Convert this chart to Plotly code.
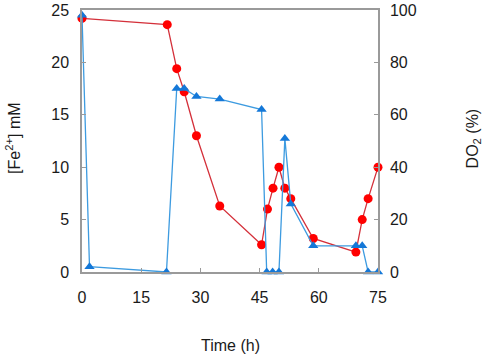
import plotly.graph_objects as go

fe_time = [0, 21.6, 24.0, 25.9, 29.0, 34.9, 45.5, 47.0, 48.4, 49.9, 51.4, 52.9, 58.6, 69.4, 71.0, 72.5, 75.0]
fe_conc = [24.2, 23.6, 19.4, 17.2, 13.0, 6.3, 2.6, 6.0, 8.0, 10.0, 8.0, 7.0, 3.2, 1.9, 5.0, 7.0, 10.0]

do_time = [0, 1.9, 21.4, 24.0, 25.9, 29.0, 34.9, 45.5, 46.8, 48.3, 49.9, 51.4, 52.9, 58.6, 69.4, 71.0, 72.5, 75.0]
do_pct = [98, 2, 0, 70, 70, 67, 66, 62, 0, 0, 0, 51, 26, 10, 10, 10, 0, 0]

x_ticks = [0, 15, 30, 45, 60, 75]
left_ticks = [0, 5, 10, 15, 20, 25]
right_ticks = [0, 20, 40, 60, 80, 100]

FONT = "Liberation Sans, Arial, sans-serif"
AXC = "#9a9a9a"
TXT = "#1a1a1a"

fig = go.Figure()
fig.add_trace(go.Scatter(
    x=fe_time, y=fe_conc, mode="lines+markers", yaxis="y",
    line=dict(color="#d4303a", width=1.3),
    marker=dict(symbol="circle", size=9, color="#ff0000"),
    cliponaxis=False, showlegend=False, hoverinfo="skip"))
fig.add_trace(go.Scatter(
    x=do_time, y=do_pct, mode="lines+markers", yaxis="y2",
    line=dict(color="#3d9be0", width=1.3),
    marker=dict(symbol="triangle-up", size=9, color="#1478d8"),
    cliponaxis=False, showlegend=False, hoverinfo="skip"))

common = dict(showgrid=False, zeroline=False, showline=True, linecolor=AXC,
              linewidth=1.5, ticks="inside", ticklen=4, tickcolor=AXC,
              automargin=False, ticklabeloverflow="allow",
              tickfont=dict(size=16, color=TXT))

fig.update_layout(
    width=490, height=359,
    margin=dict(l=82, r=112, t=10, b=87),
    paper_bgcolor="white", plot_bgcolor="white",
    font=dict(family=FONT, size=16, color=TXT),
    hovermode=False,
    xaxis=dict(range=[0, 75], tickvals=x_ticks, ticktext=[str(v) for v in x_ticks],
               mirror=True, ticklabelstandoff=10, **common),
    yaxis=dict(range=[0, 25], tickvals=left_ticks, ticklabelstandoff=8,
               **common),
    yaxis2=dict(range=[0, 100], tickvals=right_ticks, overlaying="y", side="right",
                ticklabelstandoff=7,
                **common),
    annotations=[
        dict(text="Time (h)", xref="paper", yref="paper", x=0.5, y=0,
             xanchor="center", yanchor="middle", yshift=-73, showarrow=False,
             font=dict(size=16, color=TXT)),
        dict(text="[Fe<sup>2+</sup>] mM", xref="paper", yref="paper", x=0, y=0.508,
             xanchor="center", yanchor="middle", xshift=-69, textangle=-90,
             showarrow=False, font=dict(size=16, color=TXT)),
        dict(text="DO<sub>2</sub> (%)", xref="paper", yref="paper", x=1, y=0.51,
             xanchor="center", yanchor="middle", xshift=95, textangle=-90,
             showarrow=False, font=dict(size=16, color=TXT)),
    ],
)

post = (
    "document.body.style.margin='0';"
    "var gd=document.getElementById('{plot_id}');"
    "Plotly.newPlot(gd, gd.data, gd.layout, {displayModeBar:false});"
)
fig.write_html("out.html", config={"displayModeBar": False}, post_script=post)
